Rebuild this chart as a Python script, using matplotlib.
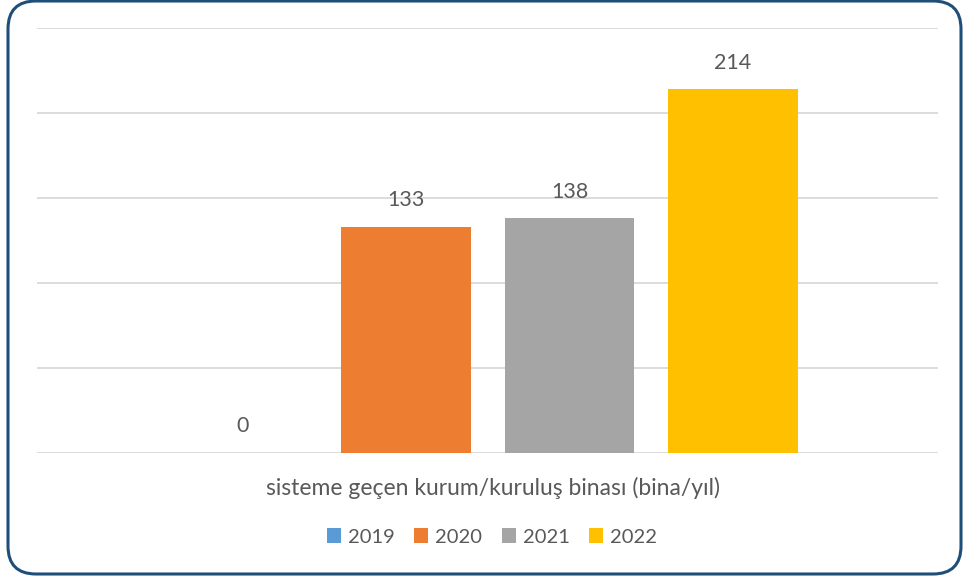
import numpy as np
import matplotlib
matplotlib.use('Agg')
import matplotlib.pyplot as plt
from matplotlib.patches import FancyBboxPatch, Patch
from matplotlib.transforms import IdentityTransform

# data
years = ['2019', '2020', '2021', '2022']
values = [0, 133, 138, 214]
colors = ['#5B9BD5', '#ED7D31', '#A5A5A5', '#FFC000']
category = 'sisteme geçen kurum/kuruluş binası (bina/yıl)'

plt.rcParams['font.family'] = ['Lato', 'DejaVu Sans']
txt = '#595959'

fig = plt.figure(figsize=(9.63, 5.79), dpi=100)
ax = fig.add_axes([37/963., 1-453/579., 901/963., 425/579.])

x = np.arange(len(years))
bars = ax.bar(x, values, width=0.79, color=colors, zorder=3)
for xi, v in zip(x, values):
    ax.annotate(str(v), (xi, v), xytext=(0, 12), textcoords='offset points',
                ha='center', va='bottom', fontsize=15.5, color=txt)

ax.set_xlim(-1.257, 4.254)
ax.set_ylim(0, 250)
ax.set_yticks(np.arange(0, 251, 50))
ax.set_xticks([])
ax.set_yticklabels([])
ax.tick_params(length=0)
ax.grid(axis='y', color='#D9D9D9', lw=1.3, zorder=0)
for s in ax.spines.values():
    s.set_visible(False)

fig.text(493/963., 1-488/579., category, ha='center', va='center',
         fontsize=16.5, color=txt)

handles = [Patch(facecolor=c, edgecolor='none') for c in colors]
leg = fig.legend(handles, years, loc='center', bbox_to_anchor=(492/963., 1-537/579.),
                 ncol=4, frameon=False, fontsize=14.5, handlelength=0.7,
                 handleheight=0.7, handletextpad=0.35, columnspacing=0.95)
for t in leg.get_texts():
    t.set_color(txt)

# rounded frame around the chart
frame = FancyBboxPatch((8, 5), 953, 573, boxstyle='round,pad=0,rounding_size=28',
                       transform=IdentityTransform(), fill=False,
                       edgecolor='#1F4E79', lw=2.2)
fig.patches.append(frame)

fig.savefig('out.png', dpi=100)
